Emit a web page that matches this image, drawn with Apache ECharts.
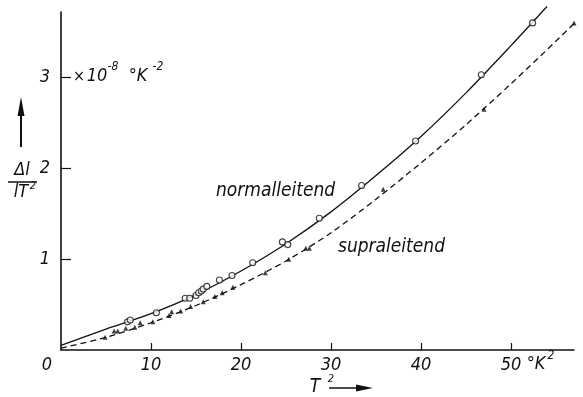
<!DOCTYPE html>
<html>
<head>
<meta charset="utf-8">
<script src="https://cdn.jsdelivr.net/npm/echarts@6/dist/echarts.min.js"></script>
<style>
  html, body { margin: 0; padding: 0; background: #fff; }
  #chart { width: 583px; height: 397px; }
</style>
</head>
<body>
<div id="chart"></div>
<script>
// measured points, normal conducting (open circles)
const normalT2 = [7.4, 7.7, 10.6, 13.8, 14.3, 15.0, 15.3, 15.6, 15.8, 16.2, 17.6, 19.0, 21.3, 24.6, 25.2, 28.7, 33.4, 39.4, 46.7, 52.4]
const normalVal = [0.31, 0.33, 0.41, 0.57, 0.57, 0.60, 0.63, 0.65, 0.67, 0.70, 0.77, 0.82, 0.96, 1.19, 1.16, 1.45, 1.81, 2.30, 3.03, 3.60]

// measured points, superconducting (filled triangles)
const supraT2 = [4.9, 5.9, 6.3, 7.2, 8.2, 8.8, 10.2, 12.0, 12.3, 13.3, 14.4, 15.8, 17.1, 17.9, 19.1, 22.7, 25.3, 27.2, 27.6, 35.8, 47.0, 57.0]
const supraVal = [0.14, 0.21, 0.21, 0.24, 0.25, 0.30, 0.31, 0.38, 0.42, 0.43, 0.48, 0.53, 0.59, 0.63, 0.69, 0.85, 1.00, 1.12, 1.12, 1.77, 2.65, 3.60]

// drawn curves
const normalCurveT2 = [0, 5, 10, 15, 20, 25, 30, 35, 40, 45, 50, 54]
const normalCurve = [0.05, 0.23, 0.40, 0.61, 0.87, 1.17, 1.52, 1.92, 2.35, 2.83, 3.35, 3.78]
const supraCurveT2 = [0, 5, 10, 15, 20, 25, 30, 35, 40, 45, 50, 55, 58]
const supraCurve = [0.02, 0.14, 0.30, 0.49, 0.72, 0.98, 1.29, 1.66, 2.06, 2.48, 2.93, 3.40, 3.69]

const xTicks = [10, 20, 30, 40, 50]
const yTicks = [1, 2, 3]

const FONT = "'Liberation Sans Narrow', 'DejaVu Sans Condensed', sans-serif"
const zip = (xs, ys) => xs.map((x, i) => [x, ys[i]])

function txt(text, x, y, size, align = 'center') {
  return {
    type: 'text', x, y, z: 10,
    style: {
      text, fill: '#111', fontSize: size, fontStyle: 'italic', fontFamily: FONT,
      textAlign: align, textVerticalAlign: 'middle',
    },
  }
}

const chart = echarts.init(document.getElementById('chart'))
chart.setOption({
  animation: false,
  backgroundColor: '#fff',
  grid: { left: 61, right: 9, top: 12, bottom: 47 },
  xAxis: {
    type: 'value', min: 0, max: 57,
    axisLine: { lineStyle: { color: '#111', width: 1.6 } },
    axisTick: { inside: true, length: 7, customValues: xTicks, lineStyle: { color: '#111', width: 1.2 } },
    axisLabel: {
      customValues: xTicks, margin: 6, color: '#111', fontSize: 18,
      fontStyle: 'italic', fontFamily: FONT,
    },
    splitLine: { show: false },
  },
  yAxis: {
    type: 'value', min: 0, max: 3.72,
    axisLine: { show: true, lineStyle: { color: '#111', width: 1.6 } },
    axisTick: { show: true, inside: true, length: 10, customValues: yTicks, lineStyle: { color: '#111', width: 1.2 } },
    axisLabel: {
      customValues: yTicks, margin: 11, color: '#111', fontSize: 18,
      fontStyle: 'italic', fontFamily: FONT,
    },
    splitLine: { show: false },
  },
  series: [
    {
      type: 'line', data: zip(normalCurveT2, normalCurve), smooth: 0.3,
      symbol: 'none', clip: false, lineStyle: { color: '#111', width: 1.3 },
    },
    {
      type: 'line', data: zip(supraCurveT2, supraCurve), smooth: 0.3,
      symbol: 'none', clip: false, lineStyle: { color: '#111', width: 1.3, type: [6, 4] },
    },
    {
      type: 'scatter', data: zip(normalT2, normalVal), symbol: 'circle', symbolSize: 6,
      itemStyle: { color: '#fff', borderColor: '#111', borderWidth: 1.1 }, z: 5,
    },
    {
      type: 'scatter', data: zip(supraT2, supraVal), symbol: 'triangle', symbolSize: 5,
      clip: false, itemStyle: { color: '#111' }, z: 5,
    },
  ],
  graphic: [
    txt('0', 47, 365, 18),
    // unit note next to the 3
    txt('\u00d7', 79, 77, 16),
    txt('10', 97, 76, 18),
    txt('-8', 113, 67, 12),
    txt('\u00b0K', 138, 76, 18),
    txt('-2', 158, 67, 12),
    // y axis name: Δl / lT²
    txt('\u0394l', 22, 170, 18),
    { type: 'line', shape: { x1: 8, y1: 182, x2: 37, y2: 182 }, style: { stroke: '#111', lineWidth: 1.5 } },
    txt('lT', 21, 192, 18),
    txt('2', 33, 186, 11),
    { type: 'line', shape: { x1: 21, y1: 147, x2: 21, y2: 112 }, style: { stroke: '#111', lineWidth: 2 } },
    { type: 'polygon', shape: { points: [[21, 97], [17.5, 116], [24.5, 116]] }, style: { fill: '#111' } },
    // x axis name: T² →
    txt('T', 315, 387, 19),
    txt('2', 331, 379, 11),
    { type: 'line', shape: { x1: 329, y1: 388, x2: 360, y2: 388 }, style: { stroke: '#111', lineWidth: 1.5 } },
    { type: 'polygon', shape: { points: [[373, 388], [356, 384.5], [356, 391.5]] }, style: { fill: '#111' } },
    // unit after 50
    txt('\u00b0K', 536, 364, 18),
    txt('2', 551, 356, 12),
    // curve labels
    txt('normalleitend', 216, 191, 19, 'left'),
    txt('supraleitend', 338, 247, 19, 'left'),
  ],
})
</script>
</body>
</html>
